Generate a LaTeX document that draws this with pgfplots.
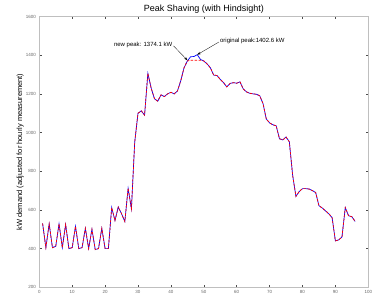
\documentclass[border=0pt]{standalone}
\usepackage{fontspec}
\setmainfont{Liberation Sans}
\usepackage{pgfplots}
\usepackage{pgfplotstable}
\pgfplotsset{compat=1.18}
\usetikzlibrary{arrows.meta}
\pgfplotstableread{
t orig shaved
1 530 530
2 405 405
3 528 528
4 405 405
5 412 412
6 528 528
7 405 405
8 525 525
9 400 400
10 405 405
11 515 515
12 400 400
13 405 405
14 505 505
15 400 400
16 500 500
17 395 395
18 400 400
19 505 505
20 400 400
21 400 400
22 612 612
23 545 545
24 615 615
25 580 580
26 540 540
27 712 712
28 605 605
29 950 950
30 1100 1100
31 1112 1112
32 1090 1090
33 1306 1306
34 1230 1230
35 1175 1175
36 1162 1162
37 1195 1195
38 1186 1186
39 1200 1200
40 1208 1208
41 1200 1200
42 1215 1215
43 1268 1268
44 1335 1335
45 1370 1370
46 1392 1374.1
47 1393 1374.1
48 1402.6 1374.1
49 1378 1374.1
50 1370 1370
51 1355 1355
52 1335 1335
53 1297 1297
54 1295 1295
55 1275 1275
56 1258 1258
57 1236 1236
58 1254 1254
59 1258 1258
60 1255 1255
61 1262 1262
62 1225 1225
63 1210 1210
64 1203 1203
65 1200 1200
66 1198 1198
67 1190 1190
68 1150 1150
69 1070 1070
70 1050 1050
71 1040 1040
72 1035 1035
73 968 968
74 962 962
75 977 977
76 952 952
77 780 780
78 670 670
79 695 695
80 710 710
81 710 710
82 708 708
83 700 700
84 690 690
85 622 622
86 610 610
87 595 595
88 580 580
89 560 560
90 440 440
91 445 445
92 460 460
93 612 612
94 570 570
95 565 565
96 540 540
}\peakdata
\begin{document}
\begin{tikzpicture}
\begin{axis}[
  scale only axis, width=329pt, height=270.8pt,
  xmin=0, xmax=100, ymin=200, ymax=1600,
  xtick={0,10,...,100}, ytick={200,400,...,1600},
  tick align=inside, major tick length=2.5pt,
  axis line style={gray!50, line width=0.4pt},
  tick style={black!70, line width=0.4pt},
  ticklabel style={font=\fontsize{4.5}{5}\selectfont, text=black!60},
  /pgf/number format/assume math mode=true,
  /pgf/number format/1000 sep={},
  every axis title shift=0pt,
  title={Peak Shaving (with Hindsight)},
  title style={font=\fontsize{9}{10}\selectfont, at={(axis description cs:0.5,1)}, anchor=base, yshift=5pt, inner sep=0pt},
  ylabel={kW demand (adjusted for hourly measurement)},
  ylabel style={font=\fontsize{7.5}{8}\selectfont, at={(axis description cs:-0.058,0.5)}, anchor=center},
  clip=false,
]
\addplot[blue, line width=0.7pt] table[x=t, y=orig] {\peakdata};
\addplot[red, line width=0.7pt, dash pattern=on 2.5pt off 1.5pt] table[x=t, y=shaved] {\peakdata};
\node[anchor=east, font=\fontsize{6}{7}\selectfont, inner sep=1pt] at (axis cs:40.8,1455) {new peak: 1374.1 kW};
\draw[line width=0.3pt, -{Stealth[length=3.5pt,width=2.5pt]}] (axis cs:40.8,1448) -- (axis cs:45,1374.1);
\node[anchor=west, font=\fontsize{6}{7}\selectfont, inner sep=1pt] at (axis cs:54.6,1473) {original peak:1402.6 kW};
\draw[line width=0.3pt, -{Stealth[length=3.5pt,width=2.5pt]}] (axis cs:54.6,1468) -- (axis cs:48,1402.6);
\end{axis}
\pgfresetboundingbox
\path (current axis.south west) ++(-39.3pt,-8.7pt) rectangle ++(373pt,296pt);
\end{tikzpicture}
\end{document}
